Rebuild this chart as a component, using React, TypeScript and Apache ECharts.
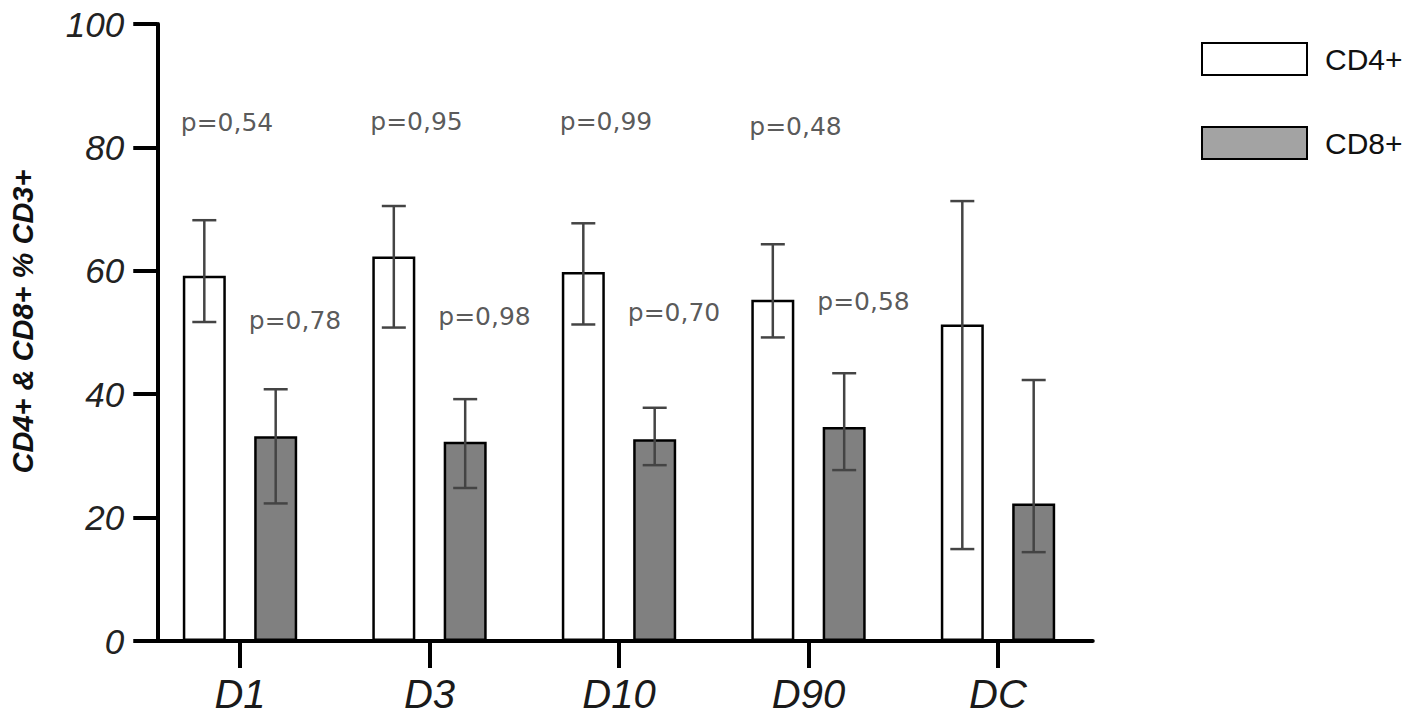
import React, { useEffect, useRef } from "react";
import * as echarts from "echarts";

const categories = ["D1", "D3", "D10", "D90", "DC"];
const cd4Values = [59.2, 62.3, 59.8, 55.3, 51.3];
const cd4Low = [51.7, 50.8, 51.3, 49.2, 14.9];
const cd4High = [68.2, 70.5, 67.7, 64.3, 71.3];
const cd8Values = [33.2, 32.3, 32.7, 34.7, 22.3];
const cd8Low = [22.3, 24.8, 28.5, 27.7, 14.4];
const cd8High = [40.8, 39.2, 37.8, 43.4, 42.3];
const pTopLabels = ["p=0,54", "p=0,95", "p=0,99", "p=0,48"];
const pTopHeights = [84, 84.2, 84.2, 83.4];
const pBottomLabels = ["p=0,78", "p=0,98", "p=0,70", "p=0,58"];
const pBottomHeights = [52, 52.6, 53.2, 55];
const yTicks = { min: 0, max: 100, interval: 20 };

const BAR_W = 43;
const BAR_GAP = 0.66;
const HALF_STEP = (BAR_W + BAR_W * BAR_GAP) / 2;

function errorSeries(low: number[], high: number[], dx: number) {
  return {
    type: "custom",
    silent: true,
    z: 5,
    data: low.map((l, i) => [i, l, high[i]]),
    renderItem: (params: any, api: any) => {
      const i = api.value(0);
      const lo = api.coord([i, api.value(1)]);
      const hi = api.coord([i, api.value(2)]);
      const x = lo[0] + dx;
      const cap = 12;
      const style = { stroke: "#444444", lineWidth: 2.5 };
      return {
        type: "group",
        children: [
          { type: "line", shape: { x1: x, y1: hi[1], x2: x, y2: lo[1] }, style },
          { type: "line", shape: { x1: x - cap, y1: hi[1], x2: x + cap, y2: hi[1] }, style },
          { type: "line", shape: { x1: x - cap, y1: lo[1], x2: x + cap, y2: lo[1] }, style },
        ],
      };
    },
  };
}

function pSeries(labels: string[], heights: number[], dx: number) {
  return {
    type: "scatter",
    silent: true,
    symbolSize: 0,
    z: 6,
    data: heights.map((h, i) => [i, h]),
    label: {
      show: true,
      position: "inside",
      offset: [dx, 0],
      formatter: (p: any) => labels[p.dataIndex],
      fontFamily: "DejaVu Sans",
      fontSize: 25,
      color: "#2e2e2e",
    },
  };
}

export default function App() {
  const ref = useRef<HTMLDivElement>(null);
  useEffect(() => {
    document.body.style.margin = "0";
    if (!ref.current) return;
    const chart = echarts.init(ref.current, undefined, { renderer: "svg" });
    const font = "'Liberation Sans', Arial, sans-serif";
    chart.setOption({
      animation: false,
      backgroundColor: "#ffffff",
      legend: {
        orient: "vertical",
        left: 1201,
        top: 42,
        padding: 0,
        itemWidth: 105,
        itemHeight: 32,
        itemGap: 50,
        icon: "rect",
        selectedMode: false,
        textStyle: { fontFamily: font, fontSize: 30, color: "#111", padding: [0, 0, 0, 13] },
        data: [
          { name: "CD4+" },
          { name: "CD8+", itemStyle: { color: "#a3a3a3" } },
        ],
      },
      grid: { left: 145.25, width: 947.5, top: 24, bottom: 80 },
      xAxis: {
        type: "category",
        data: categories,
        axisLine: { show: true, lineStyle: { color: "#000", width: 4 } },
        axisTick: { show: true, alignWithLabel: true, length: 27, lineStyle: { color: "#000", width: 4 } },
        axisLabel: { fontFamily: font, fontSize: 40, fontStyle: "italic", color: "#1a1a1a", margin: 33 },
      },
      yAxis: {
        type: "value",
        min: yTicks.min,
        max: yTicks.max,
        interval: yTicks.interval,
        offset: -12,
        splitLine: { show: false },
        axisLine: { show: true, lineStyle: { color: "#000", width: 4 } },
        axisTick: { show: true, length: 24, lineStyle: { color: "#000", width: 4 } },
        axisLabel: { fontFamily: font, fontSize: 35, fontStyle: "italic", color: "#222", margin: 33 },
        name: "CD4+ & CD8+ % CD3+",
        nameLocation: "middle",
        nameGap: 120,
        nameTextStyle: {
          fontFamily: font,
          fontSize: 29,
          fontWeight: "bold",
          fontStyle: "italic",
          color: "#111",
          padding: [0, 0, 0, 22],
        },
      },
      series: [
        {
          name: "CD4+",
          type: "bar",
          data: cd4Values,
          barWidth: BAR_W,
          barGap: BAR_GAP * 100 + "%",
          itemStyle: { color: "#ffffff", borderColor: "#000", borderWidth: 2.5 },
        },
        {
          name: "CD8+",
          type: "bar",
          data: cd8Values,
          barWidth: BAR_W,
          barGap: BAR_GAP * 100 + "%",
          itemStyle: { color: "#808080", borderColor: "#000", borderWidth: 2.5 },
        },
        errorSeries(cd4Low, cd4High, -HALF_STEP),
        errorSeries(cd8Low, cd8High, HALF_STEP),
        pSeries(pTopLabels, pTopHeights, -13),
        pSeries(pBottomLabels, pBottomHeights, 55),
      ],
    });
    return () => chart.dispose();
  }, []);
  return <div ref={ref} style={{ width: 1418, height: 721 }} />;
}
